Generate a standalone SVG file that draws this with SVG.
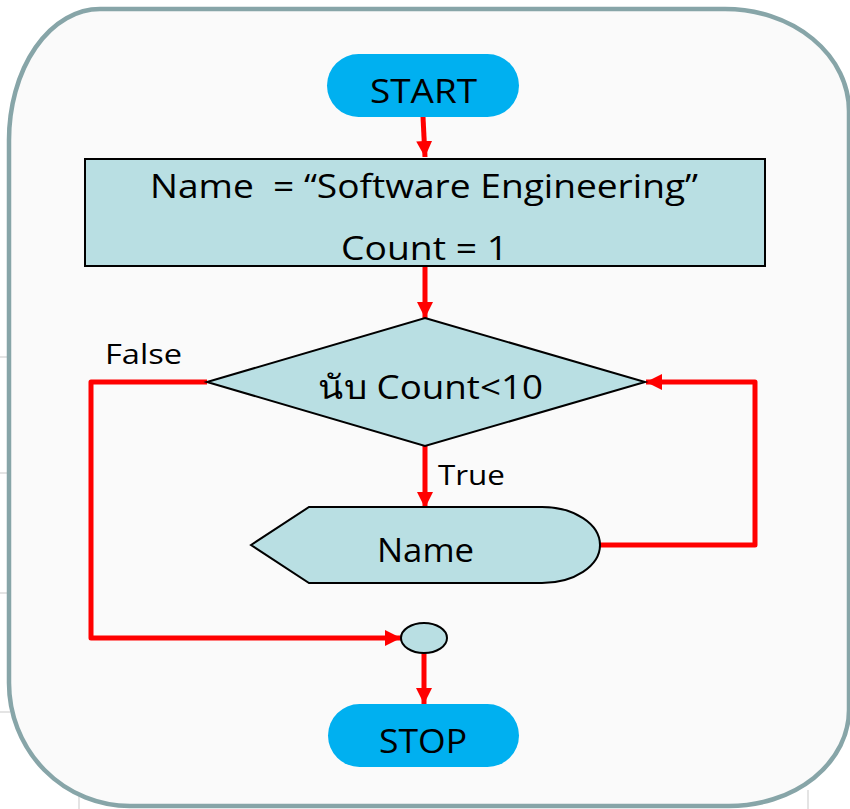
<svg xmlns="http://www.w3.org/2000/svg" width="850" height="809" viewBox="0 0 850 809">
  <defs>
    <style>
      .frame { fill: #FAFAFA; stroke: #87A5A8; stroke-width: 4.5; }
      .grid { stroke: #E4E4E4; stroke-width: 2; }
      .term { fill: #00B0F0; }
      .box { fill: #B9DFE3; stroke: #000; stroke-width: 2; }
      .lbl { font-family: "Open Sans", "Noto Sans", "DejaVu Sans", sans-serif; fill: #000; text-anchor: middle; }
      .big { font-size: 33px; }
      .small { font-size: 27px; }
      .flow { fill: none; stroke: #FF0000; stroke-width: 5; stroke-linejoin: round; }
    </style>
    <marker id="arrow" viewBox="0 0 10 10" refX="10" refY="5" markerWidth="16" markerHeight="16" orient="auto" markerUnits="userSpaceOnUse">
      <path d="M0 0 L10 5 L0 10 Z" fill="#FF0000"/>
    </marker>
  </defs>

  <rect width="850" height="809" fill="#FFFFFF"/>
  <!-- faint table rules behind the frame -->
  <g id="backdrop">
    <line class="grid" x1="0" y1="357" x2="10" y2="357"/>
    <line class="grid" x1="0" y1="473" x2="10" y2="473"/>
    <line class="grid" x1="0" y1="593" x2="10" y2="593"/>
    <line class="grid" x1="0" y1="712" x2="10" y2="712"/>
    <line class="grid" x1="79" y1="790" x2="79" y2="809"/>
    <line class="grid" x1="808" y1="790" x2="808" y2="809"/>
  </g>

  <path id="frame" class="frame" d="M100 9 H725 A124 102 0 0 1 849 111 V710 A120 96 0 0 1 729 806 H130 A121 123 0 0 1 9 683 V140 A91 131 0 0 1 100 9 Z"/>

  <g id="connectors">
    <path class="flow" d="M423 117 L425 157" marker-end="url(#arrow)"/>
    <path class="flow" d="M425 266 V318" marker-end="url(#arrow)"/>
    <path class="flow" d="M425 446 V508" marker-end="url(#arrow)"/>
    <path class="flow" d="M600 545 H755 V382 H646" marker-end="url(#arrow)"/>
    <path class="flow" d="M207 382 H91 V638 H401" marker-end="url(#arrow)"/>
    <path class="flow" d="M424 653 V704" marker-end="url(#arrow)"/>
  </g>

  <g id="start">
    <rect class="term" x="327" y="54" width="192" height="63" rx="31.5"/>
    <text class="lbl big" x="423.5" y="103" textLength="107" lengthAdjust="spacingAndGlyphs">START</text>
  </g>

  <g id="init">
    <rect class="box" x="85" y="159" width="680" height="107"/>
    <text class="lbl big" x="424" y="198" xml:space="preserve" textLength="548" lengthAdjust="spacingAndGlyphs">Name  = “Software Engineering”</text>
    <text class="lbl big" x="424.5" y="260" textLength="167" lengthAdjust="spacingAndGlyphs">Count = 1</text>
  </g>

  <g id="decision">
    <polygon class="box" points="425,318 645,382 425,446 207,382"/>
    <text class="lbl big" x="430.5" y="399" textLength="225" lengthAdjust="spacingAndGlyphs">นับ Count&lt;10</text>
  </g>

  <g id="labels">
    <text class="lbl small" x="143.5" y="364" textLength="77" lengthAdjust="spacingAndGlyphs">False</text>
    <text class="lbl small" x="471.5" y="485" textLength="67" lengthAdjust="spacingAndGlyphs">True</text>
  </g>

  <g id="display">
    <path class="box" d="M251 545 L309 507 H542 A58 38 0 0 1 542 583 H309 Z"/>
    <text class="lbl big" x="425.5" y="562" textLength="97" lengthAdjust="spacingAndGlyphs">Name</text>
  </g>

  <g id="join">
    <ellipse class="box" cx="424" cy="638" rx="23" ry="15" stroke-width="1.5"/>
  </g>

  <g id="stop">
    <rect class="term" x="328" y="704" width="191" height="63" rx="31.5"/>
    <text class="lbl big" x="423" y="753" textLength="88" lengthAdjust="spacingAndGlyphs">STOP</text>
  </g>
</svg>
